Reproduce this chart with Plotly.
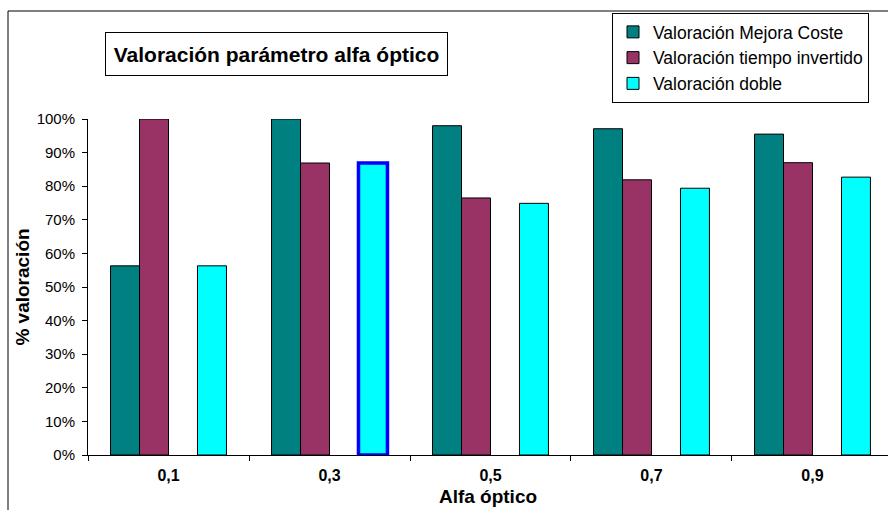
import plotly.graph_objects as go

# ---- data ----
categories = ["0,1", "0,3", "0,5", "0,7", "0,9"]
mejora_coste = [0.563, 1.000, 0.980, 0.971, 0.955]
tiempo_invertido = [1.000, 0.869, 0.765, 0.819, 0.870]
valoracion_doble = [0.563, 0.869, 0.749, 0.794, 0.827]
series_names = ["Valoración Mejora Coste", "Valoración tiempo invertido", "Valoración doble"]
y_ticks = [0, 0.1, 0.2, 0.3, 0.4, 0.5, 0.6, 0.7, 0.8, 0.9, 1.0]

FONT = "Liberation Sans, Arial, sans-serif"
colors = ["#008080", "#993366", "#00FFFF"]
bar_w = 0.18
offsets = [-0.36, -0.18, 0.18]

fig = go.Figure()
for name, vals, col, off in zip(series_names, [mejora_coste, tiempo_invertido, valoracion_doble], colors, offsets):
    if name == "Valoración doble":
        line_col = ["#000000", "#0000FF", "#000000", "#000000", "#000000"]
        line_w = [1, 3.5, 1, 1, 1]
    else:
        line_col = "#000000"
        line_w = 1
    fig.add_trace(go.Bar(
        x=categories, y=vals, name=name,
        width=bar_w, offset=off,
        marker=dict(color=col, line=dict(color=line_col, width=line_w)),
    ))

W, H = 888, 510
L, R, T, B = 88, 0, 119, 55
pw = W - L - R
ph = H - T - B

def px(x):
    return (x - L) / pw

def py(y):
    return (H - B - y) / ph

fig.update_layout(
    width=W, height=H,
    margin=dict(l=L, r=R, t=T, b=B, pad=0),
    paper_bgcolor="white", plot_bgcolor="white",
    font=dict(family=FONT, color="black"),
    barmode="overlay",
    showlegend=True,
    legend=dict(
        x=px(612), y=py(13), xanchor="left", yanchor="top",
        bordercolor="black", borderwidth=1, bgcolor="white",
        font=dict(family=FONT, size=17.5, color="black"),
        tracegroupgap=0,
        entrywidth=250, entrywidthmode="pixels",
    ),
    xaxis=dict(
        type="category",
        range=[-0.5, 4.469],
        showline=True, linecolor="black", linewidth=1,
        ticks="outside", ticklen=5, tickcolor="black", tickson="boundaries",
        tickfont=dict(family=FONT, size=16, color="black", weight="bold"),
        ticklabelstandoff=6,
        showgrid=False, zeroline=False,
        title=dict(text="<b>Alfa óptico</b>", font=dict(family=FONT, size=19, color="black"), standoff=6),
    ),
    yaxis=dict(
        range=[0, 1],
        tickvals=y_ticks, tickformat=".0%",
        showline=True, linecolor="black", linewidth=1,
        ticks="outside", ticklen=5, tickcolor="black",
        tickfont=dict(family=FONT, size=15, color="black"),
        ticklabelstandoff=4,
        showgrid=False, zeroline=False,
        title=dict(text="<b>% valoración</b>", font=dict(family=FONT, size=19, color="black"), standoff=1),
    ),
    annotations=[dict(
        text="<b>Valoración parámetro alfa óptico</b>",
        xref="paper", yref="paper", x=px(276.5), y=py(54),
        xanchor="center", yanchor="middle", showarrow=False,
        font=dict(family=FONT, size=21, color="black"),
        bordercolor="black", borderwidth=1, borderpad=3, bgcolor="white",
        width=335, height=36,
    )],
    shapes=[dict(
        type="rect", xref="paper", yref="paper",
        x0=px(8), x1=px(900), y0=py(520), y1=py(11),
        line=dict(color="black", width=1), fillcolor="rgba(0,0,0,0)", layer="below",
    )],
)

fig.write_html(
    "out.html",
    config={"displayModeBar": False},
    post_script="document.body.style.margin='0';document.body.style.overflow='hidden';",
)
